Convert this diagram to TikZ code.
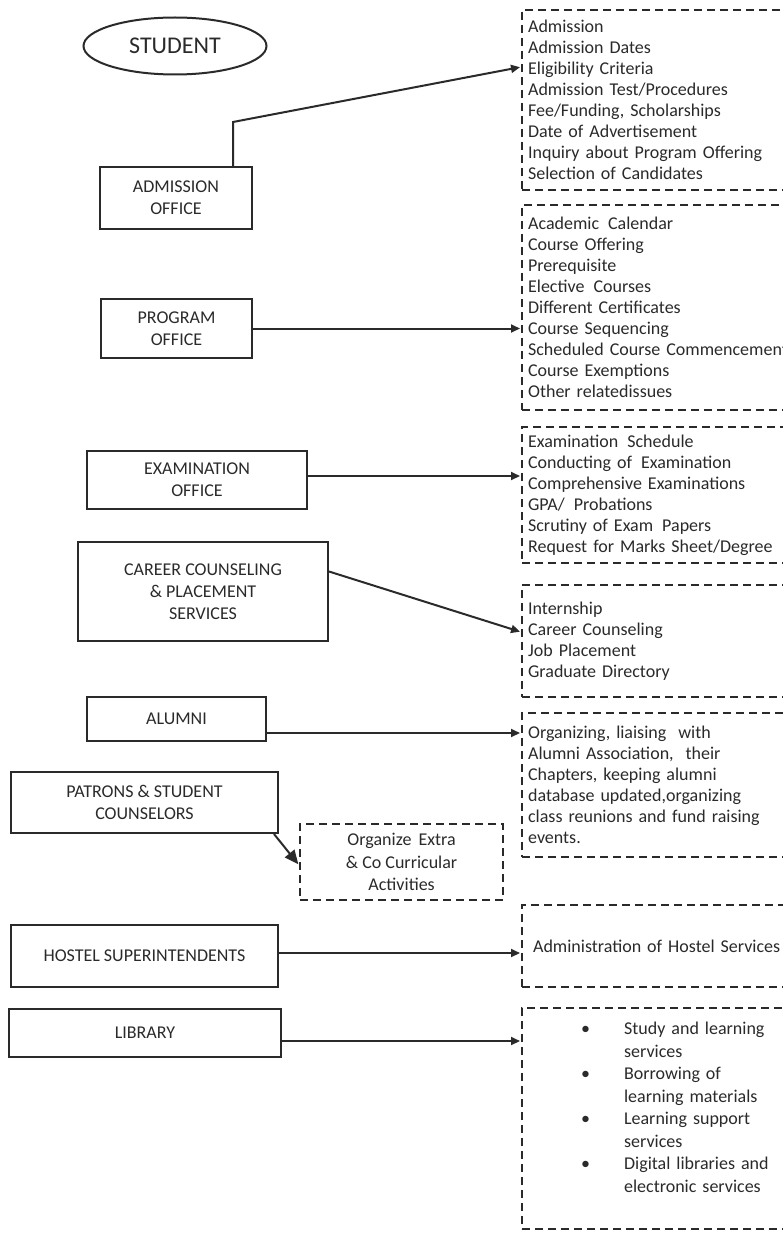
\documentclass[tikz,border=0pt]{standalone}
\usepackage{fontspec}
\setmainfont{Carlito}
\usepackage{xcolor}
\usetikzlibrary{arrows.meta}
\usetikzlibrary{shapes.geometric}
\usetikzlibrary{positioning}

\definecolor{ink}{HTML}{2A2A2A}
\newcommand{\libitem}[2]{\makebox[96pt][l]{\hspace{53pt}\textbullet}#1\\\hspace*{96pt}#2}

\begin{document}
\begin{tikzpicture}[-,>={Triangle[length=9pt,width=8pt]},shorten >=1pt,x=1pt,y=-1pt,line width=2pt,color=ink]
  \tikzstyle{office}=[draw, rectangle, align=center, inner sep=0pt, font=\fontsize{18}{22}\selectfont]
  \tikzstyle{duty}=[draw, dash pattern=on 8pt off 5pt, line width=2.2pt, anchor=west, text width=300pt, align=left, inner xsep=6pt, inner ysep=0pt, font=\fontsize{18}{21}\selectfont]
  \useasboundingbox (0,0) rectangle (783,1233);
  \clip (0,0) rectangle (783,1233);

  \node[draw, ellipse, minimum width=183pt, minimum height=57pt, inner sep=0pt, font=\fontsize{24}{28}\selectfont] (student) at (175,46) {STUDENT};

  % offices
  \node[office, minimum width=152pt, minimum height=62pt] (adm)     at (176,198)    {ADMISSION\\OFFICE};
  \node[office, minimum width=151pt, minimum height=59pt] (prog)    at (176.5,328.5) {PROGRAM\\OFFICE};
  \node[office, minimum width=220pt, minimum height=58pt] (exam)    at (197,480)    {EXAMINATION\\OFFICE};
  \node[office, minimum width=250pt, minimum height=99pt] (career)  at (203,591.5)  {CAREER COUNSELING\\\& PLACEMENT\\SERVICES};
  \node[office, minimum width=179pt, minimum height=44pt] (alumni)  at (176.5,719)  {ALUMNI};
  \node[office, minimum width=267pt, minimum height=61pt] (patrons) at (144.5,802.5) {PATRONS \& STUDENT\\COUNSELORS};
  \node[office, minimum width=267pt, minimum height=62pt] (hostel)  at (144.5,956)  {HOSTEL SUPERINTENDENTS};
  \node[office, minimum width=272pt, minimum height=48pt] (library) at (145,1033)   {LIBRARY};
  \node[office, dash pattern=on 8pt off 5pt, line width=2.2pt, minimum width=203pt, minimum height=76pt, font=\fontsize{18}{22.5}\selectfont]
       (org) [below right=-11pt and 20pt of patrons.south east] {Organize\, Extra\\\& Co Curricular\\Activities};

  % duties
  \node[duty, minimum height=180pt] (admL) at (521,100) {Admission\\Admission Dates\\Eligibility Criteria\\Admission Test/Procedures\\Fee/Funding, Scholarships\\Date of Advertisement\\Inquiry about Program Offering\\Selection of Candidates};
  \node[duty, minimum height=205pt] (progL) at (521,307.5) {Academic\, Calendar\\Course Offering\\Prerequisite\\Elective\, Courses\\Different Certificates\\Course Sequencing\\Scheduled Course Commencement\\Course Exemptions\\Other relatedissues};
  \node[duty, minimum height=136pt] (examL) at (521,495) {Examination\, Schedule\\Conducting of\, Examination\\Comprehensive Examinations\\GPA/\, Probations\\Scrutiny of Exam\, Papers\\Request for Marks Sheet/Degree};
  \node[duty, minimum height=112pt] (careerL) at (521,641) {Internship\\Career Counseling\\Job Placement\\Graduate Directory};
  \node[duty, minimum height=144pt] (alumL) at (521,785) {Organizing, liaising\ \ with\\Alumni Association,\ \ their\\Chapters, keeping alumni\\database updated,organizing\\class reunions and fund raising\\events.};
  \node[duty, minimum height=82pt] (hostL) at (521,946) {\hspace*{5pt}Administration of Hostel Services};
  \node[duty, minimum height=221pt, font=\fontsize{18}{22.5}\selectfont] (libL) at (521,1118.5)
       {\libitem{Study and learning}{services}\\\libitem{Borrowing of}{learning materials}\\\libitem{Learning support}{services}\\\libitem{Digital libraries and}{electronic services}\\\mbox{}};

  \coordinate (examA)   at ([yshift=4pt]exam.east);
  \coordinate (careerA) at ([yshift=20pt]career.east);
  \coordinate (alumA)   at ([yshift=-14pt]alumni.east);
  \coordinate (hostA)   at ([yshift=3pt]hostel.east);
  \coordinate (libA)    at ([yshift=-8pt]library.east);

  \draw[->] ([xshift=57pt]adm.north) -- ++(0,-44) -- ([yshift=33pt]admL.west);
  \path[->]
        (prog.east) edge (prog.east -| progL.west)
        (examA)     edge (examA -| examL.west)
        (careerA)   edge ([yshift=9pt]careerL.west)
        (alumA)     edge (alumA -| alumL.west)
        (hostA)     edge (hostA -| hostL.west)
        (libA)      edge (libA -| libL.west)
        ([xshift=-5pt]patrons.south east) edge[>={Triangle[length=14pt,width=12pt]}] ([yshift=-3pt]org.west);
\end{tikzpicture}
\end{document}
